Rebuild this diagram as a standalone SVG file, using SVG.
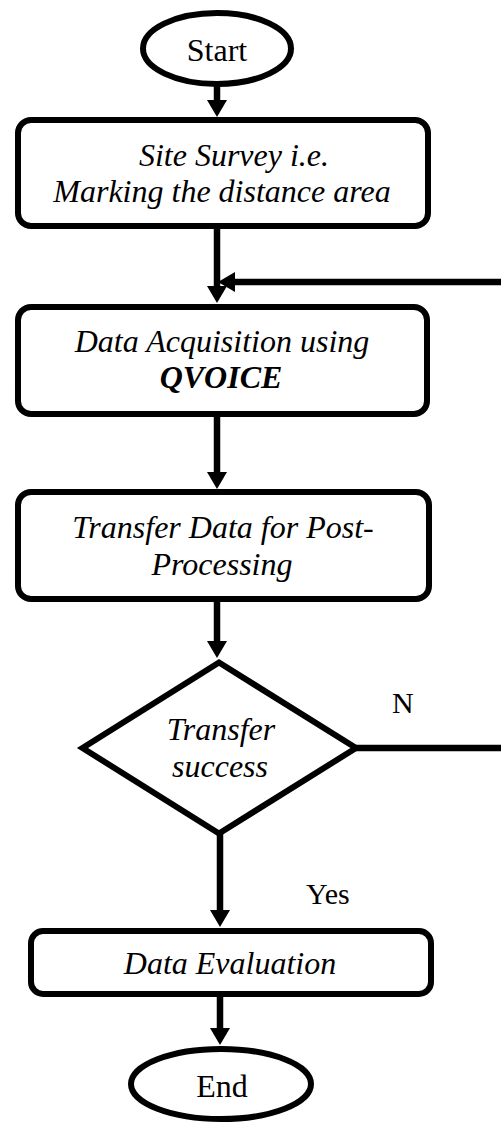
<svg xmlns="http://www.w3.org/2000/svg" width="501" height="1123" viewBox="0 0 501 1123">
<style>
.shape{fill:#fff;stroke:#000;stroke-width:6}
.conn{fill:none;stroke:#000;stroke-width:6.5}
.t{font-family:"Liberation Serif","Times New Roman",serif;font-size:32px;fill:#000;text-anchor:middle}
.i{font-style:italic}
.b{font-weight:bold}
.lbl{font-family:"Liberation Serif","Times New Roman",serif;font-size:30px;fill:#000}
</style>
<defs>
<marker id="arr" markerUnits="userSpaceOnUse" markerWidth="20" markerHeight="20" refX="11" refY="10" orient="auto" viewBox="0 0 17 20">
<path d="M0,0 L17,10 L0,20 Z" fill="#000"/>
</marker>
</defs>
<rect width="501" height="1123" fill="#fff"/>
<g id="connectors">
<path class="conn" d="M217 84 V111" marker-end="url(#arr)"/>
<path class="conn" d="M217 226 V297" marker-end="url(#arr)"/>
<path class="conn" d="M356 748 H530 V282 H224" marker-end="url(#arr)"/>
<path class="conn" d="M217 414 V483" marker-end="url(#arr)"/>
<path class="conn" d="M217 599 V652" marker-end="url(#arr)"/>
<path class="conn" d="M220 834 V921" marker-end="url(#arr)"/>
<path class="conn" d="M220 994 V1039" marker-end="url(#arr)"/>
</g>
<g id="start">
<ellipse class="shape" cx="217" cy="48.5" rx="74" ry="35.5"/>
<text class="t" x="217" y="61">Start</text>
</g>
<g id="site-survey">
<rect class="shape" x="18" y="120" width="410" height="106" rx="13"/>
<text class="t i" x="234" y="166">Site Survey i.e.</text>
<text class="t i" x="222" y="202">Marking the distance area</text>
</g>
<g id="data-acquisition">
<rect class="shape" x="18" y="307" width="409" height="107" rx="13"/>
<text class="t i" x="222" y="352">Data Acquisition using</text>
<text class="t i b" x="221" y="388">QVOICE</text>
</g>
<g id="transfer-data">
<rect class="shape" x="18" y="492" width="411" height="107" rx="13"/>
<text class="t i" x="223" y="538">Transfer Data for Post-</text>
<text class="t i" x="222" y="575">Processing</text>
</g>
<g id="transfer-success">
<polygon class="shape" points="219,662.5 356,748 219,833.5 82.5,748"/>
<text class="t i" x="221" y="740">Transfer</text>
<text class="t i" x="220" y="777">success</text>
</g>
<g id="data-evaluation">
<rect class="shape" x="31" y="931" width="400" height="63" rx="12"/>
<text class="t i" x="230" y="974">Data Evaluation</text>
</g>
<g id="end">
<ellipse class="shape" cx="221" cy="1084" rx="90" ry="35"/>
<text class="t" x="222" y="1097">End</text>
</g>
<g id="labels">
<text class="lbl" x="392" y="713">N</text>
<text class="lbl" x="306" y="904">Yes</text>
</g>
</svg>
